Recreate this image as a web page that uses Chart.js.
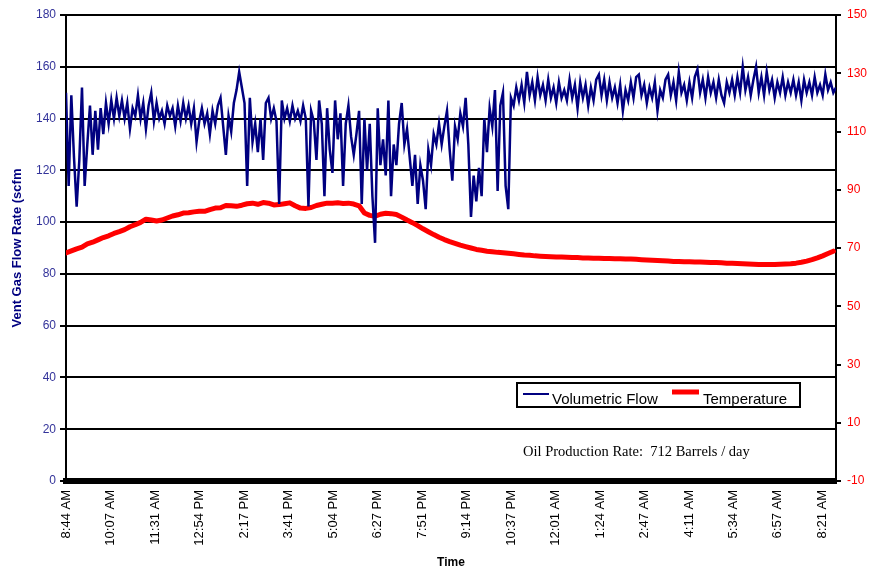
<!DOCTYPE html>
<html>
<head>
<meta charset="utf-8">
<script src="https://cdn.jsdelivr.net/npm/chart.js@4.4.1/dist/chart.umd.min.js"></script>
<style>
  html, body { margin: 0; padding: 0; background: #fff; }
  canvas { display: block; }
</style>
</head>
<body>
<canvas id="chart" width="870" height="571"></canvas>
<script>
// tick labels on the time axis, one every 83.5 minutes
const timeLabels = [
    "8:44 AM", "10:07 AM", "11:31 AM", "12:54 PM", "2:17 PM", "3:41 PM",
    "5:04 PM", "6:27 PM", "7:51 PM", "9:14 PM", "10:37 PM", "12:01 AM",
    "1:24 AM", "2:47 AM", "4:11 AM", "5:34 AM", "6:57 AM", "8:21 AM"
];
const minutesPerLabel = 83.5;
const spanMinutes = 1445;

// vent gas flow (scfm), one reading every 5 minutes from 8:44 AM
const flowStep = 5;
const flowValues = [
    150, 114, 149, 125, 106, 124, 152, 114, 130, 145, 126, 143,
    128, 144, 134, 146, 138, 147, 140, 148, 141, 147, 140, 146,
    136, 144, 141, 149, 140, 146, 136, 145, 150, 139, 146, 140,
    143, 138, 145, 141, 144, 137, 145, 139, 146, 140, 145, 138,
    144, 131, 139, 144, 138, 142, 134, 143, 138, 145, 148, 137,
    126, 141, 135, 146, 151, 158, 152, 146, 114, 148, 131, 138,
    127, 140, 124, 146, 148, 140, 144, 139, 107, 147, 140, 144,
    139, 145, 140, 143, 139, 145, 140, 106, 143, 139, 124, 147,
    138, 110, 144, 128, 119, 147, 132, 142, 114, 138, 145, 133,
    126, 134, 143, 107, 140, 120, 138, 110, 92, 144, 122, 132,
    118, 147, 110, 130, 122, 138, 146, 130, 136, 125, 114, 126,
    107, 122, 116, 105, 128, 122, 134, 130, 138, 130, 137, 143,
    128, 116, 137, 132, 142, 137, 148, 130, 102, 118, 108, 121,
    110, 140, 127, 144, 137, 151, 112, 145, 150, 114, 105, 148,
    145, 152, 147, 153, 146, 158, 149, 154, 147, 156, 149, 153,
    147, 155, 148, 152, 146, 154, 148, 151, 147, 155, 148, 153,
    144, 154, 148, 153, 145, 152, 147, 155, 157, 149, 155, 147,
    154, 148, 152, 146, 153, 143, 151, 147, 154, 148, 156, 157,
    149, 153, 146, 152, 148, 154, 143, 151, 148, 155, 157, 149,
    154, 147, 158, 150, 153, 147, 154, 148, 156, 159, 150, 155,
    148, 156, 150, 154, 148, 155, 149, 146, 154, 150, 155, 149,
    156, 150, 160, 151, 156, 149, 155, 160, 150, 156, 149, 158,
    151, 155, 148, 154, 150, 156, 149, 154, 150, 155, 149, 154,
    147, 155, 150, 154, 149, 156, 150, 153, 149, 157, 151, 154,
    150, 152
];

// temperature, one reading every 10 minutes
const tempStep = 10;
const tempValues = [
    68.3, 69.0, 69.7, 70.3, 71.4, 72.0, 72.8, 73.6, 74.2, 75.0, 75.6, 76.3,
    77.3, 78.0, 78.8, 79.9, 79.6, 79.3, 79.6, 80.3, 81.0, 81.4, 82.0, 82.1,
    82.4, 82.6, 82.6, 83.2, 83.7, 83.8, 84.6, 84.5, 84.3, 84.7, 85.2, 85.4,
    85.0, 85.6, 85.4, 84.8, 84.9, 85.2, 85.5, 84.5, 83.7, 83.6, 83.9, 84.6,
    85.0, 85.4, 85.4, 85.5, 85.3, 85.4, 85.1, 84.5, 82.0, 81.2, 80.9, 81.6,
    81.9, 81.8, 81.5, 80.6, 79.6, 78.7, 77.7, 76.6, 75.6, 74.6, 73.7, 72.9,
    72.2, 71.6, 71.0, 70.5, 70.0, 69.5, 69.2, 68.9, 68.7, 68.5, 68.4, 68.2,
    68.0, 67.8, 67.6, 67.5, 67.3, 67.2, 67.1, 67.0, 66.9, 66.9, 66.8, 66.7,
    66.7, 66.6, 66.6, 66.5, 66.5, 66.4, 66.4, 66.3, 66.3, 66.2, 66.2, 66.1,
    66.0, 65.9, 65.8, 65.7, 65.6, 65.5, 65.4, 65.4, 65.3, 65.3, 65.2, 65.2,
    65.1, 65.0, 65.0, 64.9, 64.8, 64.8, 64.7, 64.6, 64.5, 64.4, 64.3, 64.3,
    64.3, 64.3, 64.4, 64.5, 64.6, 64.8, 65.1, 65.5, 66.0, 66.6, 67.3, 68.1,
    68.9
];

const noteText = "Oil Production Rate:  712 Barrels / day";

const FLOW_COLOR = "#000080";
const TEMP_COLOR = "#ff0000";
const SANS = "'Liberation Sans', Arial, sans-serif";

// legenda in un riquadro dentro il grafico + nota sulla produzione
const boxLegend = {
    id: "boxLegend",
    afterDraw(chart) {
        const c = chart.ctx;
        const ds = chart.data.datasets;
        c.save();
        c.fillStyle = "#fff";
        c.fillRect(517, 383, 283, 24);
        c.strokeStyle = "#000";
        c.lineWidth = 2;
        c.strokeRect(517, 383, 283, 24);

        c.font = "15px " + SANS;
        c.textBaseline = "alphabetic";
        c.fillStyle = "#000";

        c.strokeStyle = ds[0].borderColor;
        c.lineWidth = 2;
        c.beginPath();
        c.moveTo(523, 394);
        c.lineTo(549, 394);
        c.stroke();
        c.fillText(ds[0].label, 552, 404);

        c.strokeStyle = ds[1].borderColor;
        c.lineWidth = 5;
        c.beginPath();
        c.moveTo(672, 392);
        c.lineTo(699, 392);
        c.stroke();
        c.fillText(ds[1].label, 703, 404);

        c.font = "14.5px 'Liberation Serif', 'Times New Roman', serif";
        c.fillText(noteText, 523, 456);
        c.restore();
    }
};

const ctx = document.getElementById("chart").getContext("2d");

new Chart(ctx, {
    type: "line",
    data: {
        datasets: [
            {
                label: "Volumetric Flow",
                data: flowValues.map((v, i) => ({ x: i * flowStep, y: v })),
                borderColor: FLOW_COLOR,
                backgroundColor: FLOW_COLOR,
                borderWidth: 2.5,
                pointRadius: 0,
                tension: 0,
                yAxisID: "y"
            },
            {
                label: "Temperature",
                data: tempValues.map((v, i) => ({ x: i * tempStep, y: v })),
                borderColor: TEMP_COLOR,
                backgroundColor: TEMP_COLOR,
                borderWidth: 5,
                borderJoinStyle: "round",
                borderCapStyle: "round",
                pointRadius: 0,
                tension: 0,
                yAxisID: "y2"
            }
        ]
    },
    options: {
        responsive: false,
        animation: false,
        devicePixelRatio: 1,
        layout: { padding: { top: 15, left: 0, right: 0, bottom: 0 } },
        plugins: {
            legend: { display: false },
            tooltip: { enabled: false }
        },
        scales: {
            x: {
                type: "linear",
                min: 0,
                max: spanMinutes,
                afterBuildTicks: scale => {
                    scale.ticks = timeLabels.map((_, i) => ({ value: i * minutesPerLabel }));
                },
                afterFit: scale => { scale.height = 90; },
                ticks: {
                    autoSkip: false,
                    minRotation: 90,
                    maxRotation: 90,
                    padding: 9,
                    color: "#000",
                    font: { family: SANS, size: 13 },
                    callback: (val, i) => timeLabels[i]
                },
                grid: { drawOnChartArea: false, drawTicks: false },
                border: { color: "#000", width: 6 },
                title: {
                    display: true,
                    text: "Time",
                    color: "#000",
                    font: { family: SANS, size: 12, weight: "bold" },
                    padding: { top: 0, bottom: 1 }
                }
            },
            y: {
                position: "left",
                min: 0,
                max: 180,
                afterFit: scale => { scale.width = 66; },
                ticks: {
                    stepSize: 20,
                    padding: 4,
                    color: "#33339a",
                    font: { family: SANS, size: 12 }
                },
                grid: { color: "#000", lineWidth: 2, tickLength: 6 },
                border: { color: "#000", width: 2 },
                title: {
                    display: true,
                    text: "Vent Gas Flow Rate (scfm",
                    color: FLOW_COLOR,
                    font: { family: SANS, size: 13, weight: "bold" },
                    padding: { top: 10, bottom: 0 }
                }
            },
            y2: {
                position: "right",
                min: -10,
                max: 150,
                afterFit: scale => { scale.width = 34; },
                ticks: {
                    stepSize: 20,
                    padding: 6,
                    color: TEMP_COLOR,
                    font: { family: SANS, size: 12 }
                },
                grid: { drawOnChartArea: false, color: "#000", lineWidth: 2, tickLength: 5 },
                border: { color: "#000", width: 2 }
            }
        }
    },
    plugins: [boxLegend]
});
</script>
</body>
</html>
